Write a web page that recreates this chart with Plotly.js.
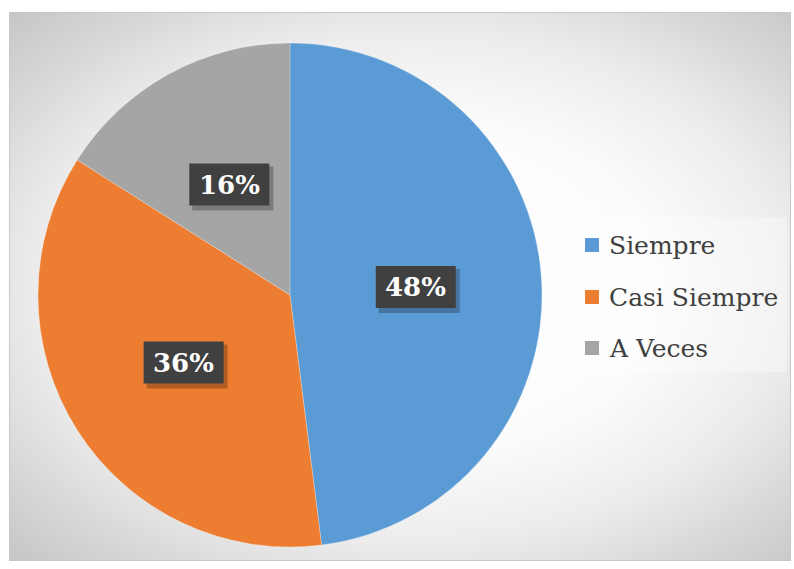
<!DOCTYPE html>
<html>
<head>
<meta charset="utf-8">
<script src="https://cdn.plot.ly/plotly-3.0.1.min.js"></script>
<style>
  html, body { margin: 0; padding: 0; background: #ffffff; }
  #wrap { position: relative; width: 794px; height: 569px; overflow: hidden; }
  #bg {
    position: absolute; left: 9px; top: 12px; width: 780px; height: 547px;
    border: 1px solid #c8c8c8;
    background: radial-gradient(ellipse farthest-corner at 52% 50%, #ffffff 0%, #fcfcfc 42%, #ececec 66%, #d6d6d6 85%, #c6c6c6 100%);
  }
  #chart { position: absolute; left: 0; top: 0; width: 794px; height: 569px; }
</style>
</head>
<body>
<div id="wrap">
  <div id="bg"></div>
  <div id="chart"></div>
</div>
<script>
// ---- data ----
const categories = ["Siempre", "Casi Siempre", "A Veces"];
const values = [48, 36, 16];
const percentLabels = ["48%", "36%", "16%"];
const colors = ["#5B9BD5", "#ED7D31", "#A5A5A5"];

// ---- layout geometry ----
const W = 794, H = 569;
const SERIF = "DejaVu Serif";
const domX = [38 / W, 542 / W];
const domY = [1 - 547 / H, 1 - 43 / H];

const cxPx = (domX[0] + domX[1]) / 2 * W;
const cyPx = (1 - (domY[0] + domY[1]) / 2) * H;
const rPx = Math.min((domX[1] - domX[0]) * W, (domY[1] - domY[0]) * H) / 2;

const total = values.reduce((a, b) => a + b, 0);
const annotations = [];
const shapes = [];
const boxW = 80, boxH = 42;
let cum = 0;
values.forEach((v, i) => {
  const mid = (cum + v / 2) / total;
  cum += v;
  const th = 2 * Math.PI * mid;
  const xp = cxPx + 0.5 * rPx * Math.sin(th);
  const yp = cyPx - 0.5 * rPx * Math.cos(th);
  shapes.push({
    type: "rect", xref: "paper", yref: "paper",
    x0: (xp - boxW / 2 + 3) / W, x1: (xp + boxW / 2 + 4) / W,
    y0: 1 - (yp + boxH / 2 + 5) / H, y1: 1 - (yp - boxH / 2 + 3) / H,
    fillcolor: "rgba(0,0,0,0.25)", line: { width: 0 }
  });
  shapes.push({
    type: "rect", xref: "paper", yref: "paper",
    x0: (xp - boxW / 2) / W, x1: (xp + boxW / 2) / W,
    y0: 1 - (yp + boxH / 2) / H, y1: 1 - (yp - boxH / 2) / H,
    fillcolor: "#404040", line: { width: 0 }
  });
  annotations.push({
    xref: "paper", yref: "paper", x: xp / W, y: 1 - yp / H,
    xanchor: "center", yanchor: "middle", showarrow: false,
    text: "<b>" + percentLabels[i] + "</b>",
    font: { family: SERIF, size: 26, color: "#ffffff" }
  });
});

const legX0 = 571 / W, legX1 = 787 / W, legY0 = 1 - 372 / H, legY1 = 1 - 217 / H;
shapes.unshift({
  type: "rect", xref: "paper", yref: "paper",
  x0: legX0, x1: legX1, y0: legY0, y1: legY1,
  fillcolor: "rgba(255,255,255,0.35)", line: { width: 0 }, layer: "below"
});
const rowY = [245, 297, 348];
categories.forEach((c, i) => {
  const yc = rowY[i];
  shapes.push({
    type: "rect", xref: "paper", yref: "paper",
    x0: 585 / W, x1: 599 / W, y0: 1 - (yc + 7) / H, y1: 1 - (yc - 7) / H,
    fillcolor: colors[i], line: { width: 0 }
  });
  annotations.push({
    xref: "paper", yref: "paper", x: 607 / W, y: 1 - yc / H,
    xanchor: "left", yanchor: "middle", showarrow: false, text: c,
    font: { family: SERIF, size: 25, color: "#404040" }
  });
});

const trace = {
  type: "pie",
  labels: categories,
  values: values,
  sort: false,
  direction: "clockwise",
  rotation: 0,
  textinfo: "none",
  hoverinfo: "label+percent",
  marker: { colors: colors, line: { color: "rgba(255,255,255,0.35)", width: 0.7 } },
  domain: { x: domX, y: domY },
  showlegend: false
};

const layout = {
  width: W, height: H,
  margin: { l: 0, r: 0, t: 0, b: 0 },
  paper_bgcolor: "rgba(0,0,0,0)",
  plot_bgcolor: "rgba(0,0,0,0)",
  showlegend: false,
  shapes: shapes,
  annotations: annotations
};

Plotly.newPlot("chart", [trace], layout, { displayModeBar: false, staticPlot: true });
</script>
</body>
</html>
